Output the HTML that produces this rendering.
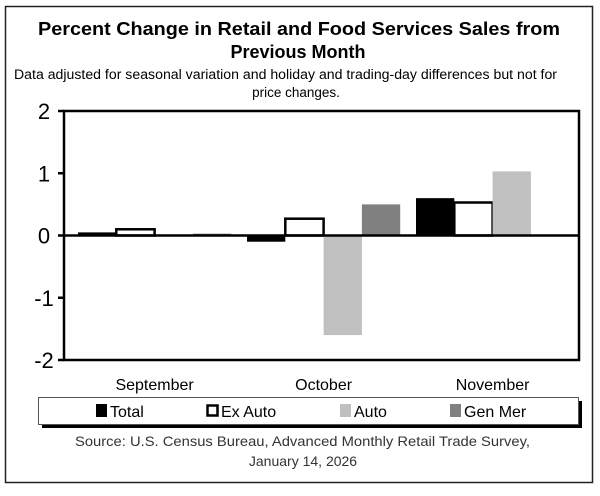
<!DOCTYPE html>
<html><head><meta charset="utf-8"><style>
body{margin:0;background:#fff;}
svg text{font-family:"Liberation Sans",sans-serif;}
</style></head><body>
<svg width="600" height="491" viewBox="0 0 600 491">
<rect x="5.5" y="6.5" width="587" height="476" fill="#fff" stroke="#222" stroke-width="1.5"/>
<text x="38" y="35" font-size="18" font-weight="bold" textLength="522" lengthAdjust="spacingAndGlyphs">Percent Change in Retail and Food Services Sales from</text>
<text x="298" y="58" font-size="18" font-weight="bold" text-anchor="middle">Previous Month</text>
<text x="14" y="79" font-size="13.5" textLength="543" lengthAdjust="spacingAndGlyphs">Data adjusted for seasonal variation and holiday and trading-day differences but not for</text>
<text x="296" y="97" font-size="13.5" text-anchor="middle">price changes.</text>
<g id="plot"></g>
<rect x="42" y="401" width="540" height="27" fill="#000"/>
<rect x="38.5" y="397.5" width="540" height="27" fill="#fff" stroke="#555" stroke-width="1"/>
<g><rect x="96" y="404" width="11" height="13" fill="#000"/><text x="110" y="417" font-size="16">Total</text></g>
<g><rect x="207.5" y="405.5" width="10" height="10" fill="#fff" stroke="#000" stroke-width="2.5"/><text x="221" y="417" font-size="16">Ex Auto</text></g>
<g><rect x="340" y="404" width="11" height="13" fill="#c0c0c0"/><text x="354" y="417" font-size="16">Auto</text></g>
<g><rect x="450" y="404" width="11" height="13" fill="#808080"/><text x="464" y="417" font-size="16">Gen Mer</text></g>
<text x="75" y="446" font-size="14" fill="#333" textLength="455" lengthAdjust="spacingAndGlyphs">Source: U.S. Census Bureau, Advanced Monthly Retail Trade Survey,</text>
<text x="303" y="466" font-size="14" fill="#333" text-anchor="middle">January 14, 2026</text>
</svg>
<script>
const categories = ["September","October","November"];
const seriesNames = ["Total","Ex Auto","Auto","Gen Mer"];
const totalVals = [0.05, -0.1, 0.6];
const exAutoVals = [0.1, 0.27, 0.53];
const autoVals = [0.0, -1.6, 1.03];
const genMerVals = [0.03, 0.5, 0.0];
const yTicks = [2, 1, 0, -1, -2];

const NS = "http://www.w3.org/2000/svg";
const g = document.getElementById("plot");
const L = 64, R = 579, T = 111, B = 360;
const yMin = -2, yMax = 2;
function y(v){ return B - (v - yMin) / (yMax - yMin) * (B - T); }
const bandStart = 78, bandStep = 169, barW = 38.3;
function x(ci, si){ return bandStart + ci * bandStep + si * barW; }
function mk(tag, attrs){ const e = document.createElementNS(NS, tag); for (const k in attrs) e.setAttribute(k, attrs[k]); g.appendChild(e); return e; }

const frame = mk("rect", {x:L, y:T, width:R-L, height:B-T, fill:"#fff", stroke:"#000", "stroke-width":2.5});



yTicks.forEach(t => {
  const tk = mk("line", {x1:L-6, x2:L, y1:y(t), y2:y(t), stroke:"#000", "stroke-width":2.5});
  
  
  const lb = mk("text", {x:L-20, y:y(t)+8, "font-size":22, "text-anchor":"middle"});
  lb.textContent = t;
  
  
});

const series = [totalVals, exAutoVals, autoVals, genMerVals];
const fills = ["#000", "#fff", "#c0c0c0", "#808080"];
series.forEach((vals, si) => {
  vals.forEach((v, ci) => {
    const y0 = y(0), yv = y(v);
    const attrs = {x:x(ci, si), y:Math.min(y0, yv), width:barW, height:Math.abs(yv - y0), fill:fills[si]};
    if (si === 1){ attrs.stroke = "#000"; attrs["stroke-width"] = 2.5; }
    const b = mk("rect", attrs);
    
    
  });
});

const zl = mk("line", {x1:L, x2:R, y1:y(0), y2:y(0), stroke:"#000", "stroke-width":2.5});



categories.forEach((c, ci) => {
  const t = mk("text", {x:x(ci, 2), y:390, "font-size":16, "text-anchor":"middle"});
  t.textContent = c;
  
  
});
</script>
</body></html>
